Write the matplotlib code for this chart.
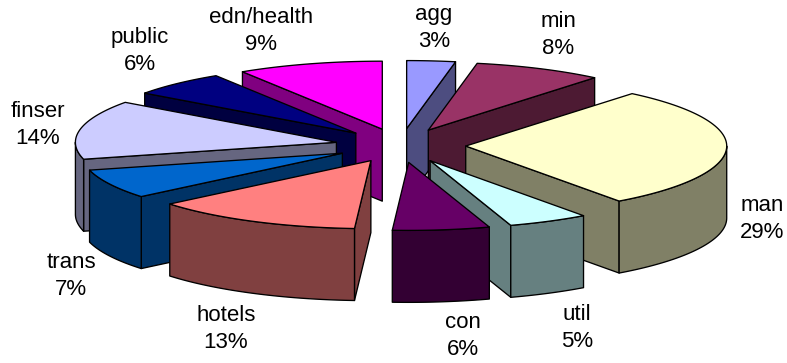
import matplotlib.pyplot as plt
import numpy as np
from matplotlib.patches import Polygon

plt.rcParams["font.family"] = ["Liberation Sans", "DejaVu Sans"]

sectors = ["agg", "min", "man", "util", "con", "hotels", "trans", "finser", "public", "edn/health"]
shares = [3, 8, 29, 5, 6, 13, 7, 14, 6, 9]
colors = ["#9999FF", "#993366", "#FFFFCC", "#CCFFFF", "#660066",
          "#FF8080", "#0066CC", "#CCCCFF", "#000080", "#FF00FF"]

center_x, center_y = 400.5, 145.5
radius_x, radius_y = 261, 68
explode = 0.25
depth = 72


def rim(angles, cx, cy):
    # angles in radians, clockwise from twelve o'clock
    return np.column_stack([cx + radius_x * np.sin(angles), cy - radius_y * np.cos(angles)])


def side_color(color):
    return tuple(c * 0.5 for c in plt.matplotlib.colors.to_rgb(color))


def add_face(ax, points, color):
    ax.add_patch(Polygon(points, closed=True, facecolor=color, edgecolor="black",
                         linewidth=0.95, joinstyle="round"))


def draw_slice(ax, start, end, color):
    mid = (start + end) / 2
    cx = center_x + explode * radius_x * np.sin(mid)
    cy = center_y - explode * radius_y * np.cos(mid)
    dark = side_color(color)
    apex = np.array([cx, cy])
    down = np.array([0, depth])

    # cut faces that look towards the viewer
    if np.sin(start) < 0:
        p = rim(np.array([start]), cx, cy)[0]
        add_face(ax, [apex, p, p + down, apex + down], dark)
    if np.sin(end) > 0:
        p = rim(np.array([end]), cx, cy)[0]
        add_face(ax, [apex, p, p + down, apex + down], dark)

    # outer wall, only the front half of the ellipse shows
    lo, hi = max(start, np.pi / 2), min(end, 3 * np.pi / 2)
    if hi > lo:
        arc = rim(np.linspace(lo, hi, 60), cx, cy)
        add_face(ax, np.vstack([arc, arc[::-1] + down]), dark)

    top = rim(np.linspace(start, end, 80), cx, cy)
    add_face(ax, np.vstack([apex, top]), color)


fig, ax = plt.subplots(figsize=(7.87, 3.63), dpi=100)
ax.set_position([0, 0, 1, 1])
ax.set_xlim(0, 787)
ax.set_ylim(363, 0)
ax.axis("off")

edges = np.cumsum([0] + shares) / sum(shares) * 2 * np.pi
mids = (edges[:-1] + edges[1:]) / 2

# back slices first so the front ones overlap them
for i in np.argsort(-np.cos(mids)):
    draw_slice(ax, edges[i], edges[i + 1], colors[i])

label_x = [434, 558, 762, 577, 463, 226, 71, 38, 140, 261]
label_y = [28, 35, 219, 328, 336, 329, 276, 125, 51, 31]
for name, share, x, y in zip(sectors, shares, label_x, label_y):
    ax.text(x, y, f"{name}\n{share}%", ha="center", va="center", fontsize=16,
            color="black", linespacing=1.36)

fig.savefig("out.png", dpi=100)
